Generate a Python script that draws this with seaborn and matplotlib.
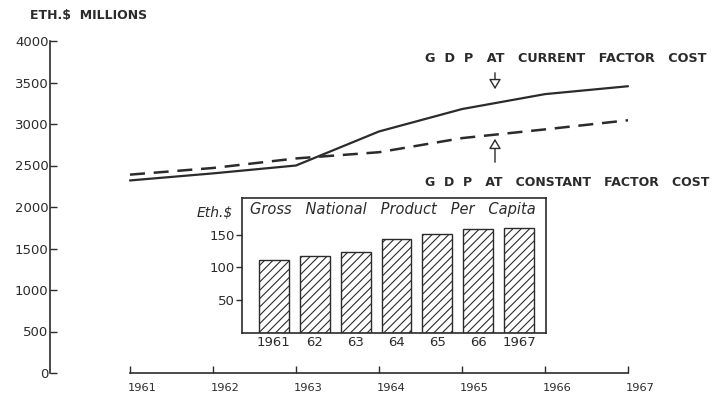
import matplotlib
matplotlib.use("Agg")
import matplotlib.pyplot as plt
import matplotlib.transforms as mtransforms
import seaborn as sns
import pandas as pd

# Gross domestic product, Eth.$ millions
years = [1961, 1962, 1963, 1964, 1965, 1966, 1967]
gdp_current = [2320, 2405, 2500, 2910, 3180, 3360, 3455]
gdp_constant = [2390, 2470, 2585, 2660, 2830, 2935, 3045]

# Gross national product per capita, Eth.$
gnp_labels = ["1961", "62", "63", "64", "65", "66", "1967"]
gnp_per_capita = [112, 118, 124, 143, 151, 159, 160]

main_ticks_y = [0, 500, 1000, 1500, 2000, 2500, 3000, 3500, 4000]
inset_ticks_y = [50, 100, 150]

INK = "#2b2b2b"
W, H = 714, 400

sns.set_theme(style="white")
plt.rcParams["font.family"] = ["DejaVu Sans"]
plt.rcParams["hatch.color"] = INK
plt.rcParams["hatch.linewidth"] = 0.8

fig = plt.figure(figsize=(W / 100, H / 100), dpi=100)
fig.patch.set_facecolor("white")


def fx(px):
    return px / W


def fy(py):
    return 1 - py / H


# main GDP chart
ax = fig.add_axes([fx(50), fy(373), fx(631 - 50), fy(41) - fy(373)])
ax.set_facecolor("none")
df = pd.DataFrame({"year": years, "current": gdp_current, "constant": gdp_constant})
sns.lineplot(data=df, x="year", y="current", ax=ax, color=INK, lw=1.6)
sns.lineplot(data=df, x="year", y="constant", ax=ax, color=INK, lw=1.8)
ax.lines[-1].set_dashes([6, 3.5])

x0 = 1961 - (130 - 50) / 83.0
ax.set_xlim(x0, x0 + (631 - 50) / 83.0)
ax.set_ylim(0, 4000)
for s in ("top", "right"):
    ax.spines[s].set_visible(False)
ax.spines["left"].set_bounds(0, 4000)
ax.spines["bottom"].set_bounds(1961, 1967)
for s in ("left", "bottom"):
    ax.spines[s].set_color(INK)
    ax.spines[s].set_linewidth(1.2)
ax.set_xticks(years)
ax.set_xticklabels([str(y) for y in years])
ax.set_yticks(main_ticks_y)
ax.set_yticklabels([str(v) for v in main_ticks_y])
ax.tick_params(axis="x", direction="in", length=5, width=1, color=INK,
               labelsize=8.2, labelcolor=INK, pad=7, bottom=True)
ax.tick_params(axis="y", direction="in", length=5, width=1, color=INK,
               labelsize=9.5, labelcolor=INK, pad=1, left=True)
ax.set_xlabel("")
ax.set_ylabel("")

# year labels start at their tick rather than centring on it
offset = mtransforms.ScaledTranslation(-2 / 100, 0, fig.dpi_scale_trans)
for lab in ax.get_xticklabels():
    lab.set_horizontalalignment("left")
    lab.set_transform(lab.get_transform() + offset)

fig.text(fx(30), fy(16), "ETH.$  MILLIONS", fontsize=9, fontweight="bold",
         color=INK, va="center", ha="left")
fig.text(fx(425), fy(58), "G  D  P   AT   CURRENT   FACTOR   COST", fontsize=9.2,
         fontweight="bold", color=INK, va="center", ha="left")
fig.text(fx(425), fy(183), "G  D  P   AT   CONSTANT   FACTOR   COST", fontsize=9,
         fontweight="bold", color=INK, va="center", ha="left")


def data_y(py):
    return (373 - py) / (373 - 41) * 4000


arrow_x = 1961 + (495 - 130) / 83.0
ax.annotate("", xy=(arrow_x, data_y(92)), xytext=(arrow_x, data_y(70)),
            arrowprops=dict(arrowstyle="-|>,head_length=0.5,head_width=0.3",
                            fc="white", ec=INK, lw=1))
ax.annotate("", xy=(arrow_x, data_y(136)), xytext=(arrow_x, data_y(165)),
            arrowprops=dict(arrowstyle="-|>,head_length=0.5,head_width=0.3",
                            fc="white", ec=INK, lw=1))

# inset: GNP per capita
ins = fig.add_axes([fx(242), fy(333), fx(546 - 242), fy(198) - fy(333)])
ins.set_facecolor("white")
bdf = pd.DataFrame({"year": gnp_labels, "gnp": gnp_per_capita})
sns.barplot(data=bdf, x="year", y="gnp", ax=ins, color="white",
            edgecolor=INK, linewidth=1, width=0.73, hatch="////")
ins.set_xlim(-0.78, 6.66)
ins.set_ylim(0, 206)
for s in ins.spines.values():
    s.set_visible(True)
    s.set_color(INK)
    s.set_linewidth(1.2)
ins.set_yticks(inset_ticks_y)
ins.set_yticklabels([str(v) for v in inset_ticks_y])
ins.tick_params(axis="y", direction="out", length=4, width=1, color=INK,
                labelsize=9.5, labelcolor=INK, pad=1, left=True)
ins.tick_params(axis="x", length=0, labelsize=9.5, labelcolor=INK, pad=2)
ins.set_xlabel("")
ins.set_ylabel("")
ins.text(0.025, 0.915, "Gross   National   Product   Per   Capita", transform=ins.transAxes,
         fontsize=10.5, fontstyle="italic", color=INK, ha="left", va="center")
fig.text(fx(197), fy(213), "Eth.$", fontsize=10, fontstyle="italic",
         color=INK, ha="left", va="center")

fig.savefig("out.png", dpi=100, facecolor="white")
